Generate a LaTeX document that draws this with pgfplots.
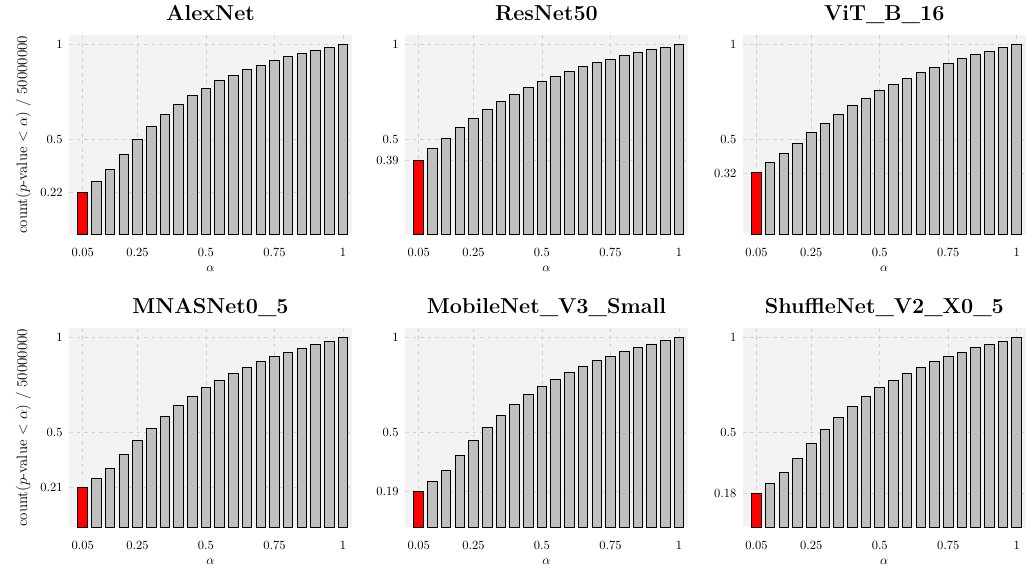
\documentclass[border=0pt]{standalone}
\usepackage{pgfplots}
\pgfplotsset{compat=1.18}
\definecolor{bgcol}{RGB}{243,243,243}
\definecolor{gridcol}{RGB}{210,210,210}
\definecolor{barcol}{RGB}{191,191,191}
\pgfplotsset{
 panel/.style={
  scale only axis, width=226.4pt, height=159.2pt,
  xmin=0, xmax=1.033, ymin=0, ymax=1.05,
  axis background/.style={fill=bgcol},
  axis line style={draw=none},
  major tick length=0pt,
  grid=major, major grid style={dashed, gridcol, line width=0.55pt},
  xtick={0.05,0.25,0.5,0.75,1}, xticklabels={0.05,0.25,0.5,0.75,1},
  xticklabel style={anchor=base, yshift=-17.9pt},
  yticklabel style={anchor=east, xshift=-1.5pt},
  xlabel={$\alpha$},
  xlabel style={at={(axis description cs:0.5,0)}, anchor=base, yshift=-30pt},
  title style={at={(axis description cs:0.5,1)}, anchor=base, yshift=6pt, font=\LARGE\bfseries},
 },
 ylab/.style={ylabel={count($p$-value $<\alpha$) / 50000000},
  ylabel style={at={(axis description cs:-0.148,0.5)}, anchor=base, font=\large}},
 graybar/.style={ybar, bar width=0.035, bar shift=0pt, fill=barcol, draw=black, line width=0.75pt},
 redbar/.style={ybar, bar width=0.035, bar shift=0pt, fill=red, draw=black, line width=0.75pt},
}
\begin{document}
\begin{tikzpicture}
\useasboundingbox (0pt,0pt) rectangle (820.8pt,-456.8pt);
% AlexNet
\begin{axis}[panel, ylab, at={(55.2pt,-187.4pt)}, anchor=south west, title={AlexNet},
 ytick={0.22,0.5,1}, yticklabels={0.22,0.5,1}]
\addplot[redbar] coordinates {(0.05,0.22)};
\addplot[graybar] coordinates {(0.10,0.278) (0.15,0.341) (0.20,0.423) (0.25,0.500) (0.30,0.570) (0.35,0.631) (0.40,0.685) (0.45,0.731) (0.50,0.771) (0.55,0.809) (0.60,0.839) (0.65,0.869) (0.70,0.893) (0.75,0.918) (0.80,0.937) (0.85,0.956) (0.90,0.972) (0.95,0.986) (1.00,1.000)};
\end{axis}
% ResNet50
\begin{axis}[panel, at={(324pt,-187.4pt)}, anchor=south west, title={ResNet50},
 ytick={0.39,0.5,1}, yticklabels={0.39,0.5,1}]
\addplot[redbar] coordinates {(0.05,0.39)};
\addplot[graybar] coordinates {(0.10,0.453) (0.15,0.507) (0.20,0.561) (0.25,0.612) (0.30,0.657) (0.35,0.701) (0.40,0.740) (0.45,0.775) (0.50,0.806) (0.55,0.834) (0.60,0.860) (0.65,0.885) (0.70,0.906) (0.75,0.923) (0.80,0.941) (0.85,0.958) (0.90,0.974) (0.95,0.988) (1.00,1.000)};
\end{axis}
% ViT
\begin{axis}[panel, at={(594.2pt,-187.4pt)}, anchor=south west, title={ViT\_B\_16},
 ytick={0.32,0.5,1}, yticklabels={0.32,0.5,1}]
\addplot[redbar] coordinates {(0.05,0.325)};
\addplot[graybar] coordinates {(0.10,0.381) (0.15,0.428) (0.20,0.481) (0.25,0.535) (0.30,0.586) (0.35,0.633) (0.40,0.677) (0.45,0.719) (0.50,0.757) (0.55,0.790) (0.60,0.822) (0.65,0.851) (0.70,0.878) (0.75,0.902) (0.80,0.925) (0.85,0.946) (0.90,0.963) (0.95,0.983) (1.00,1.000)};
\end{axis}
% MNASNet
\begin{axis}[panel, ylab, at={(55.2pt,-421.8pt)}, anchor=south west, title={MNASNet0\_5},
 ytick={0.21,0.5,1}, yticklabels={0.21,0.5,1}]
\addplot[redbar] coordinates {(0.05,0.21)};
\addplot[graybar] coordinates {(0.10,0.257) (0.15,0.312) (0.20,0.382) (0.25,0.456) (0.30,0.523) (0.35,0.585) (0.40,0.643) (0.45,0.692) (0.50,0.736) (0.55,0.775) (0.60,0.812) (0.65,0.843) (0.70,0.873) (0.75,0.901) (0.80,0.924) (0.85,0.945) (0.90,0.965) (0.95,0.982) (1.00,1.000)};
\end{axis}
% MobileNet
\begin{axis}[panel, at={(324pt,-421.8pt)}, anchor=south west, title={MobileNet\_V3\_Small},
 ytick={0.19,0.5,1}, yticklabels={0.19,0.5,1}]
\addplot[redbar] coordinates {(0.05,0.19)};
\addplot[graybar] coordinates {(0.10,0.243) (0.15,0.302) (0.20,0.378) (0.25,0.457) (0.30,0.527) (0.35,0.591) (0.40,0.649) (0.45,0.699) (0.50,0.743) (0.55,0.782) (0.60,0.817) (0.65,0.851) (0.70,0.879) (0.75,0.903) (0.80,0.928) (0.85,0.949) (0.90,0.967) (0.95,0.984) (1.00,1.000)};
\end{axis}
% ShuffleNet
\begin{axis}[panel, at={(594.2pt,-421.8pt)}, anchor=south west, title={ShuffleNet\_V2\_X0\_5},
 ytick={0.18,0.5,1}, yticklabels={0.18,0.5,1}]
\addplot[redbar] coordinates {(0.05,0.18)};
\addplot[graybar] coordinates {(0.10,0.231) (0.15,0.289) (0.20,0.364) (0.25,0.443) (0.30,0.516) (0.35,0.579) (0.40,0.638) (0.45,0.689) (0.50,0.736) (0.55,0.775) (0.60,0.812) (0.65,0.844) (0.70,0.874) (0.75,0.900) (0.80,0.923) (0.85,0.946) (0.90,0.964) (0.95,0.982) (1.00,1.000)};
\end{axis}
\end{tikzpicture}
\end{document}
